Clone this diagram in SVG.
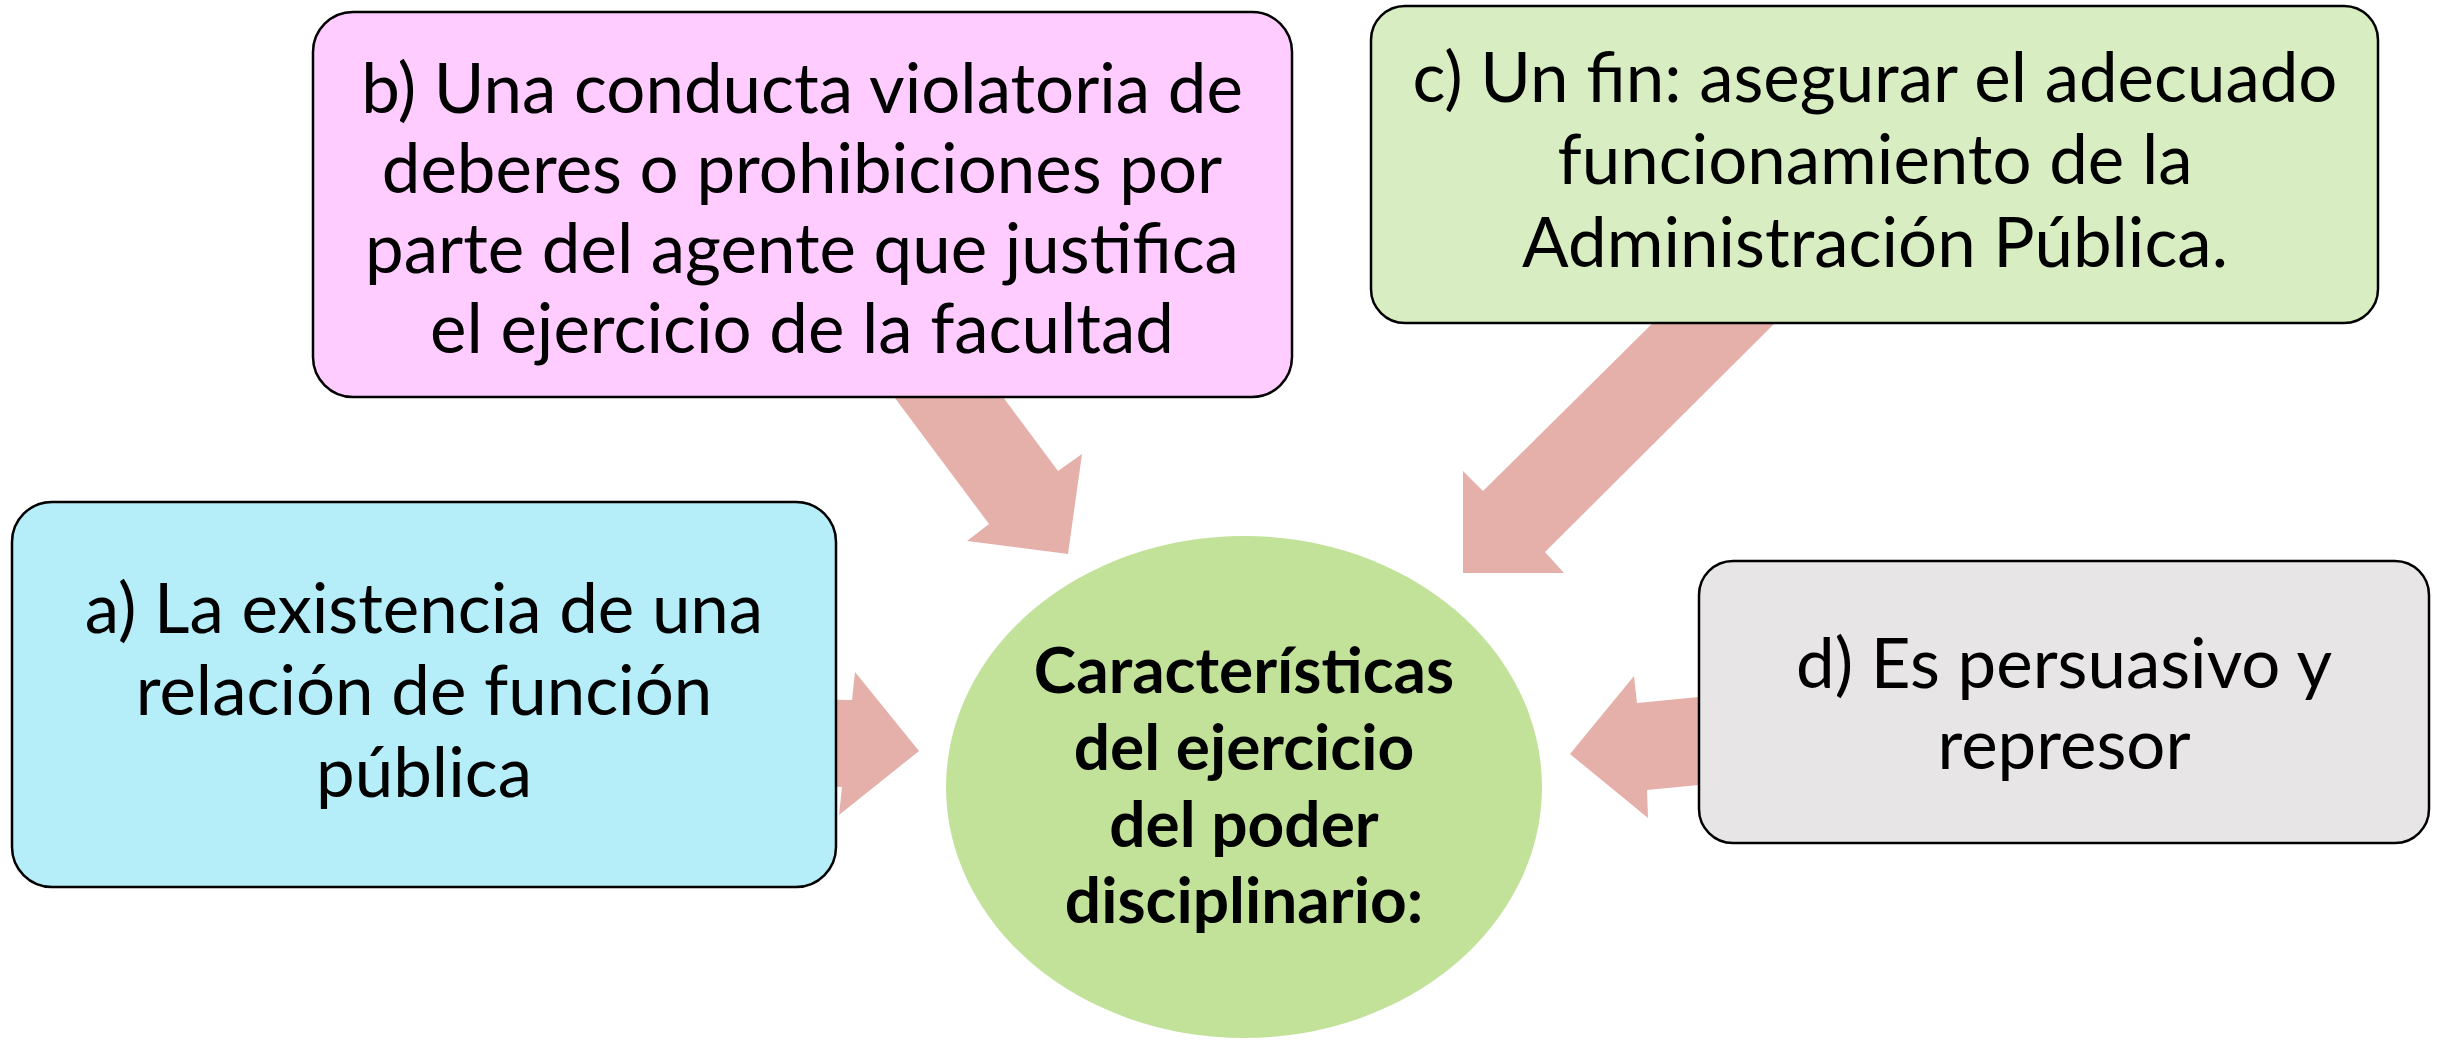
<svg xmlns="http://www.w3.org/2000/svg" width="2443" height="1040" viewBox="0 0 2443 1040">
<style>
.box{stroke:#000;stroke-width:2.5}
.t{font-family:Lato,"Liberation Sans",sans-serif;font-size:69px;fill:#000;text-anchor:middle}
.tb{font-family:Lato,"Liberation Sans",sans-serif;font-size:64px;font-weight:bold;fill:#000;text-anchor:middle}
.arr{fill:#E6B0AA}
</style>
<rect width="2443" height="1040" fill="#fff"/>
<g id="connectors">
<polygon class="arr" points="800,699 852,700 855,672 919,751 839,815 842,787 800,786"/>
<polygon class="arr" points="874,370 983,370 1058,471 1082,454 1068,554 967,541 989,524"/>
<polygon class="arr" points="1676,300 1798,300 1545,552 1564,573 1463,573 1463,471 1483,491"/>
<polygon class="arr" points="1740,693 1637,703 1634,676 1570,754 1648,818 1647,790 1740,781"/>
</g>
<g id="node-a">
<rect class="box" x="12" y="502" width="824" height="385" rx="40" fill="#B5EDF9"/>
<text class="t" x="424" y="633">a) La existencia de una</text>
<text class="t" x="424" y="715">relación de función</text>
<text class="t" x="424" y="797">pública</text>
</g>
<g id="node-b">
<rect class="box" x="313" y="12" width="979" height="385" rx="40" fill="#FFCCFF"/>
<text class="t" x="802" y="113">b) Una conducta violatoria de</text>
<text class="t" x="802" y="193">deberes o prohibiciones por</text>
<text class="t" x="802" y="273">parte del agente que justifica</text>
<text class="t" x="802" y="353">el ejercicio de la facultad</text>
</g>
<g id="node-c">
<rect class="box" x="1371" y="6" width="1007" height="317" rx="34" fill="#D9EDC2"/>
<text class="t" x="1875" y="102">c) Un fin: asegurar el adecuado</text>
<text class="t" x="1875" y="184">funcionamiento de la</text>
<text class="t" x="1875" y="267">Administración Pública.</text>
</g>
<g id="node-d">
<rect class="box" x="1699" y="561" width="730" height="282" rx="34" fill="#E7E5E6"/>
<text class="t" x="2064" y="688">d) Es persuasivo y</text>
<text class="t" x="2064" y="769">represor</text>
</g>
<g id="node-center">
<ellipse cx="1244" cy="787" rx="298" ry="251" fill="#C2E29A"/>
<text class="tb" x="1244" y="693">Características</text>
<text class="tb" x="1244" y="770">del ejercicio</text>
<text class="tb" x="1244" y="847">del poder</text>
<text class="tb" x="1244" y="923">disciplinario:</text>
</g>
</svg>
